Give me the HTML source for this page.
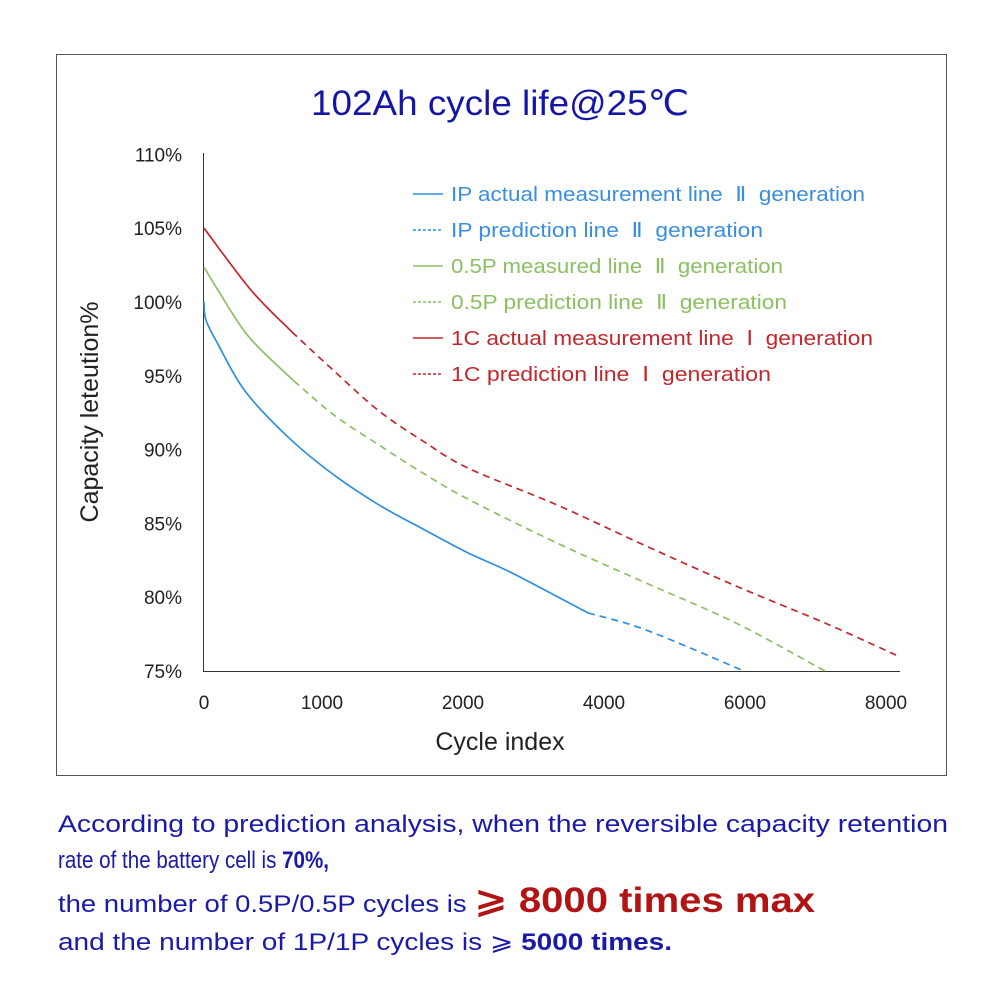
<!DOCTYPE html>
<html><head><meta charset="utf-8"><style>
body{margin:0;background:#fff;}
svg{display:block;font-family:"Liberation Sans","DejaVu Sans",sans-serif;}
</style></head><body>
<svg id="chart" width="1000" height="1000" viewBox="0 0 1000 1000">
<rect x="56.5" y="54.5" width="890" height="721" fill="none" stroke="#555" stroke-width="1"/>
<text x="500" y="115" text-anchor="middle" font-size="35" fill="#1616a6" textLength="378" lengthAdjust="spacingAndGlyphs">102Ah cycle life@25℃</text>
<g id="axes"></g>
<g id="series"></g>
<g id="legend"></g>
<text x="500" y="750" text-anchor="middle" font-size="25" fill="#222">Cycle index</text>
<text transform="translate(98,412) rotate(-90)" text-anchor="middle" font-size="25" fill="#222">Capacity leteution%</text>
<g font-size="24" fill="#1a1aa8">
<text x="58" y="832" textLength="890" lengthAdjust="spacingAndGlyphs">According to prediction analysis, when the reversible capacity retention</text>
<text x="58" y="868" textLength="271" lengthAdjust="spacingAndGlyphs">rate of the battery cell is <tspan font-weight="bold">70%,</tspan></text>
<text x="58" y="912" textLength="757" lengthAdjust="spacingAndGlyphs">the number of 0.5P/0.5P cycles is <tspan font-size="35" font-weight="bold" fill="#b01414">⩾ 8000 times max</tspan></text>
<text x="58" y="950" textLength="614" lengthAdjust="spacingAndGlyphs">and the number of 1P/1P cycles is ⩾ <tspan font-weight="bold">5000 times.</tspan></text>
</g>
</svg>
<script>
const xTickVals = [163, 1000, 2000, 3000, 4000, 5000];
const xTickLabels = ["0", "1000", "2000", "4000", "6000", "8000"];
const yTickVals = [75, 80, 85, 90, 95, 100, 105, 110];
const yTickLabels = ["75%", "80%", "85%", "90%", "95%", "100%", "105%", "110%"];
const blueMeasured = [[163,100],[177,98.78],[262,97.15],[454,93.97],[766,90.79],[1085,88.28],[1404,86.25],[1716,84.62],[2035,83.0],[2348,81.64],[2887,78.93]];
const bluePredicted = [[2887,78.93],[3298,77.78],[3993,75]];
const greenMeasured = [[163,102.37],[262,100.81],[482,97.63],[801,94.65]];
const greenPredicted = [[801,94.65],[1085,92.34],[1404,90.31],[1716,88.41],[2035,86.65],[2667,83.67],[3298,80.96],[3936,78.25],[4567,75]];
const redMeasured = [[163,105.01],[496,100.81],[787,97.97]];
const redPredicted = [[787,97.97],[1085,95.33],[1404,92.62],[1716,90.58],[2035,88.75],[2667,86.25],[3298,83.47],[3936,80.76],[4567,78.25],[5071,76.08]];
const legendLabels = ["IP actual measurement line  Ⅱ  generation","IP prediction line  Ⅱ  generation","0.5P measured line  Ⅱ  generation","0.5P prediction line  Ⅱ  generation","1C actual measurement line  Ⅰ  generation","1C prediction line  Ⅰ  generation"];

const NS = "http://www.w3.org/2000/svg";
function xs(v){ return 181 + v * 0.141; }
function ys(v){ return 302 + (100 - v) * 14.76; }
function mk(tag, attrs, parent){ const e=document.createElementNS(NS,tag); for(const k in attrs) e.setAttribute(k,attrs[k]); parent.appendChild(e); return e; }

const axes=document.getElementById('axes');
const yl=mk('line',{x1:203.5,y1:153,x2:203.5,y2:671,stroke:'#333','stroke-width':1},axes);


const xl=mk('line',{x1:203,y1:671.5,x2:900,y2:671.5,stroke:'#333','stroke-width':1},axes);


yTickVals.forEach((v,i)=>{
  const t=mk('text',{x:182,y:ys(v)+7,'text-anchor':'end','font-size':19,fill:'#222'},axes);
  t.textContent=yTickLabels[i];
  
  
});
xTickVals.forEach((v,i)=>{
  const t=mk('text',{x:xs(v),y:709,'text-anchor':'middle','font-size':19,fill:'#222'},axes);
  t.textContent=xTickLabels[i];
  
  
});

function pathD(pts){
  const p=pts.map(d=>[xs(d[0]),ys(d[1])]);
  let d='M'+p[0][0]+','+p[0][1];
  for(let i=0;i<p.length-1;i++){
    const p0=p[i-1]||p[i],p1=p[i],p2=p[i+1],p3=p[i+2]||p2;
    const c1=[p1[0]+(p2[0]-p0[0])/6,p1[1]+(p2[1]-p0[1])/6];
    const c2=[p2[0]-(p3[0]-p1[0])/6,p2[1]-(p3[1]-p1[1])/6];
    d+=' C'+c1+' '+c2+' '+p2;
  }
  return d;
}
const ser=document.getElementById('series');
const BLUE='#2e8ee0',GREEN='#8cc063',RED='#c0282e';
const seriesDefs=[[blueMeasured,BLUE,null,'blue-measured-line'],[bluePredicted,BLUE,'7 5','blue-predicted-line'],[greenMeasured,GREEN,null,'green-measured-line'],[greenPredicted,GREEN,'7 5','green-predicted-line'],[redMeasured,RED,null,'red-measured-line'],[redPredicted,RED,'7 5','red-predicted-line']];
seriesDefs.forEach(s=>{
  const a={d:pathD(s[0]),fill:'none',stroke:s[1],'stroke-width':1.7};
  if(s[2]) a['stroke-dasharray']=s[2];
  const e=mk('path',a,ser);
  
  
});
const leg=document.getElementById('legend');
const legColors=[BLUE,BLUE,GREEN,GREEN,RED,RED];
const legText=['#3a8ede','#3a8ede','#8cc063','#8cc063','#c0282e','#c0282e'];
const legWidths=[414,312,332,336,422,320];
legendLabels.forEach((lab,i)=>{
  const y=194+i*36;
  const a={x1:413,y1:y,x2:443,y2:y,stroke:legColors[i],'stroke-width':1.5};
  if(i%2===1) a['stroke-dasharray']='3 2';
  const l=mk('line',a,leg);
  
  
  const t=mk('text',{x:451,y:y+7,'font-size':20,fill:legText[i],textLength:legWidths[i],lengthAdjust:'spacingAndGlyphs','xml:space':'preserve'},leg);
  t.style.whiteSpace='pre';
  t.textContent=lab;
  
  
});
</script>
</body></html>
